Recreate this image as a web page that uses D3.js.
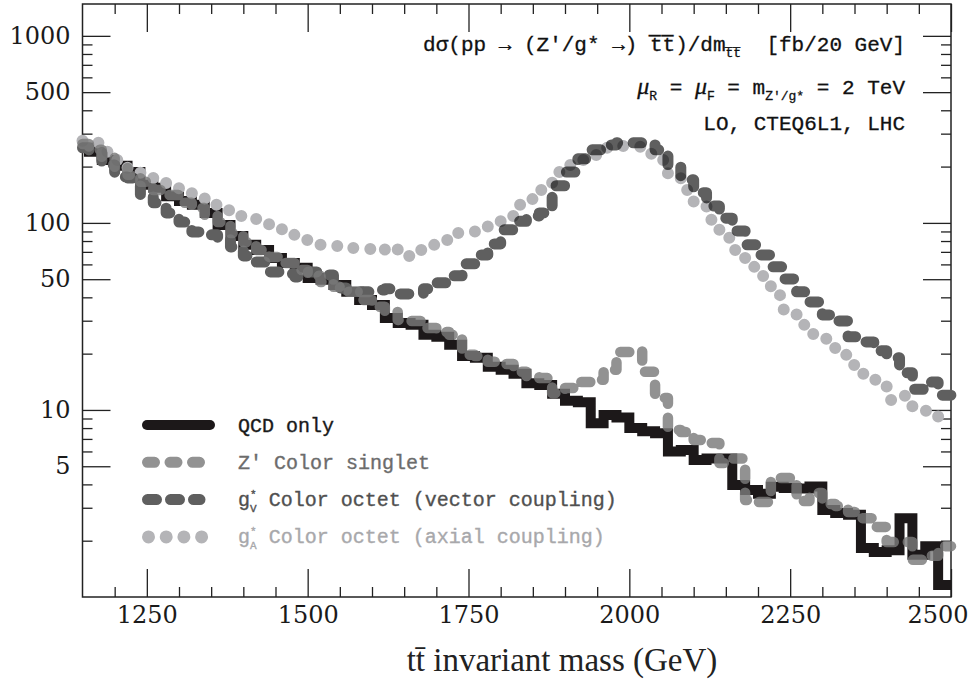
<!DOCTYPE html>
<html><head><meta charset="utf-8">
<script src="https://cdn.jsdelivr.net/npm/d3@7"></script>
<style>
body{margin:0;background:#fff;}
svg{display:block;}
.mono{font-family:'Liberation Mono','DejaVu Sans Mono',monospace;white-space:pre;}
.tick text{font-family:'DejaVu Serif',serif !important;font-size:24px !important;}
</style></head><body>
<svg id="chart" width="974" height="687"></svg>
<script>
// ---------- data ----------
// 20 GeV bins, lower edges 1140 ... 2480 (68 bins)
const binLow = d3.range(1140, 2500, 20);
const qcd = [252, 240, 217, 202, 187, 160, 154, 139, 131, 125,
  113, 97.5, 85.2, 76.3, 71.7, 65.0, 61.1, 57.5, 50.8, 49.6,
  46.6, 42.8, 38.7, 36.4, 31.0, 29.2, 28.5, 25.2, 24.6, 22.3,
  19.4, 19.0, 17.0, 16.4, 15.6, 13.9, 13.6, 12.2, 11.2, 11.0,
  8.5, 9.4, 9.1, 8.0, 7.7, 7.5, 6.0, 6.1, 5.4, 5.5,
  5.5, 3.97, 3.73, 3.56, 3.88, 3.83, 3.8, 3.9, 2.92, 2.81,
  2.75, 1.83, 1.74, 1.78, 2.64, 1.68, 1.87, 1.16];
const zprime = [264, 246, 223, 197, 181, 166, 150, 141, 128, 120,
  110, 101, 88.4, 79.1, 71.7, 65.8, 61.1, 56.0, 52.1, 48.3,
  45.5, 42.8, 38.7, 35.6, 33.4, 30.3, 29.9, 27.4, 26.1, 25.2,
  19.7, 19.4, 18.1, 17.6, 16.0, 15.2, 14.8, 12.3, 13.1, 14.1,
  14.5, 16.4, 20.4, 20.6, 16.0, 11.6, 7.82, 7.63, 6.91, 6.66,
  5.21, 5.5, 3.30, 3.22, 4.33, 4.33, 3.26, 3.60, 3.14, 3.07,
  2.85, 2.64, 2.37, 1.97, 1.97, 1.58, 1.66, 1.87];
const gVector = [252, 240, 204, 176, 174, 138, 128, 113, 101, 89.5,
  86.3, 82.1, 74.4, 66.6, 61.8, 54.7, 53.4, 51.4, 54.7, 52.7,
  44.9, 43.8, 42.8, 43.8, 44.4, 41.7, 41.7, 44.4, 47.8, 52.1,
  60.4, 67.4, 77.2, 91.8, 102, 109, 113, 158, 187, 220,
  246, 261, 268, 268, 261, 246, 204, 170, 145, 123,
  106, 90.6, 76.3, 67.4, 58.2, 50.2, 42.8, 37.8, 32.2, 29.9,
  24.6, 23.1, 20.7, 19.0, 15.8, 12.9, 14.1, 12.0];
const gAxial = [275, 268, 240, 217, 192, 178, 168, 156, 148, 138,
  125, 117, 109, 105, 100, 94.0, 86.3, 81.1, 77.2, 76.3,
  75.3, 73.5, 72.6, 70.8, 74.4, 66.6, 71.7, 76.3, 81.1, 88.4,
  89.5, 92.9, 98.8, 109, 125, 134, 150, 187, 204, 217,
  231, 252, 258, 255, 234, 217, 181, 150, 125, 104,
  83.2, 71.7, 58.2, 52.0, 41.1, 34.3, 28.5, 25.5, 24.0, 19.7,
  17.4, 15.6, 14.5, 11.3, 11.9, 10.4, 9.9, 9.1];
const xMajor = [1250, 1500, 1750, 2000, 2250, 2500];
const yMajor = [5, 10, 50, 100, 500, 1000];
const yMinor = [2, 3, 4, 6, 7, 8, 9, 20, 30, 40, 60, 70, 80, 90, 200, 300, 400, 600, 700, 800, 900];
const legendNames = ["QCD only", "Z\u2032 Color singlet", "Color octet (vector coupling)", "Color octet (axial coupling)"];

// ---------- setup ----------
const svg = d3.select("#chart");
const x = d3.scaleLinear().domain([1150, 2500]).range([82.5, 951]);
const y = d3.scaleLog().domain([1, 1480]).range([597, 4]);
const L = x.range()[0], R = x.range()[1], T = y.range()[1], B = y.range()[0];
const xMinor = d3.range(1200, 2500, 50).filter(v => !xMajor.includes(v));

const styles = {
  qcd:  {color: "#1c1819", width: 10, dash: null, cap: "butt"},
  zp:   {color: "#7a7a7a", width: 10.5, dash: "9 14", cap: "round", opacity: 0.82},
  gv:   {color: "#5f5f5f", width: 11, dash: "8.5 15.5", cap: "round"},
  ga:   {color: "#b4b4b7", width: 12, dash: "0 18", cap: "round"}
};

function styleAxis(g) {
  g.attr("font-family", "'DejaVu Serif', serif").attr("font-size", 24);
  g.select(".domain").remove();
  g.selectAll(".tick line").attr("stroke", "#222").attr("stroke-width", 1.3);
  g.selectAll(".tick text").attr("fill", "#1a1a1a");
}

// bottom axis
svg.append("g").attr("transform", `translate(0,${B})`)
  .call(d3.axisBottom(x).tickValues(xMajor).tickSize(-28).tickPadding(9).tickFormat(d3.format("d")))
  .call(styleAxis)
  .call(g => g.selectAll(".tick text").each(function(d) {
    const bb = this.getBBox();
    const right = x(d) + bb.x + bb.width;
    if (right > 968) d3.select(this).attr("x", 968 - right);
  }));
svg.append("g").attr("transform", `translate(0,${B})`)
  .call(d3.axisBottom(x).tickValues(xMinor).tickSize(-10).tickFormat("")).call(styleAxis);
// top axis
svg.append("g").attr("transform", `translate(0,${T})`)
  .call(d3.axisTop(x).tickValues(xMajor).tickSize(-28).tickFormat("")).call(styleAxis);
svg.append("g").attr("transform", `translate(0,${T})`)
  .call(d3.axisTop(x).tickValues(xMinor).tickSize(-10).tickFormat("")).call(styleAxis);
// left axis
svg.append("g").attr("transform", `translate(${L},0)`)
  .call(d3.axisLeft(y).tickValues(yMajor).tickSize(-28).tickPadding(12).tickFormat(d3.format("d")))
  .call(styleAxis);
svg.append("g").attr("transform", `translate(${L},0)`)
  .call(d3.axisLeft(y).tickValues(yMinor).tickSize(-10).tickFormat("")).call(styleAxis);
// right axis
svg.append("g").attr("transform", `translate(${R},0)`)
  .call(d3.axisRight(y).tickValues(yMajor).tickSize(-28).tickFormat("")).call(styleAxis);
svg.append("g").attr("transform", `translate(${R},0)`)
  .call(d3.axisRight(y).tickValues(yMinor).tickSize(-10).tickFormat("")).call(styleAxis);

// frame
svg.append("rect").attr("x", L).attr("y", T).attr("width", R - L).attr("height", B - T)
  .attr("fill", "none").attr("stroke", "#222").attr("stroke-width", 1.5);

// ---------- series ----------
const line = d3.line().x(d => x(d[0])).y(d => y(d[1])).curve(d3.curveStepAfter);
const x0 = x.domain()[0], x1 = x.domain()[1];
function pts(vals) {
  const p = binLow.map((b, i) => [Math.max(b, x0), vals[i]]);
  p.push([x1, vals[vals.length - 1]]);
  return p;
}
function drawSeries(g, vals, s) {
  const p = g.append("path").attr("d", line(pts(vals)))
    .attr("fill", "none").attr("stroke", s.color).attr("stroke-width", s.width)
    .attr("stroke-linecap", s.cap).attr("stroke-linejoin", s.cap === "round" ? "round" : "miter");
  if (s.dash) p.attr("stroke-dasharray", s.dash);
  if (s.opacity) p.attr("stroke-opacity", s.opacity);
  return p;
}
drawSeries(svg, qcd, styles.qcd);
const gGroup = svg.append("g").style("isolation", "isolate");
drawSeries(gGroup, gAxial, styles.ga);
drawSeries(gGroup, gVector, styles.gv).style("mix-blend-mode", "multiply");
drawSeries(svg, zprime, styles.zp);

// ---------- legend ----------
const legend = svg.append("g");
const legendStyles = [styles.qcd, styles.zp, styles.gv, styles.ga];
const legendText = ["#1a1a1a", "#6c6c6c", "#505050", "#a8a8ab"];
const legendDash = [null, "7 15.5", "9 14", "0 17.7"];
const legendWidth = [10, 11, 11, 13];
legendNames.forEach((name, i) => {
  const cy = 425 + i * 37.3;
  const s = legendStyles[i];
  const pl = legend.append("line").attr("y1", cy).attr("y2", cy)
    .attr("stroke", s.color).attr("stroke-width", legendWidth[i]).attr("stroke-linecap", "round");
  if (i === 0) pl.attr("x1", 147).attr("x2", 210);
  else if (i === 3) pl.attr("x1", 148.5).attr("x2", 202.5);
  else pl.attr("x1", 147.5).attr("x2", 200);
  if (legendDash[i]) pl.attr("stroke-dasharray", legendDash[i]);
  if (s.opacity) pl.attr("stroke-opacity", s.opacity);
  const t = legend.append("text").attr("class", "mono").attr("x", 238).attr("y", cy + 6.5)
    .attr("fill", legendText[i]).attr("stroke", legendText[i]).attr("stroke-width", 0.35)
    .style("font-size", "20px");
  if (i < 2) t.text(name);
  else {
    t.append("tspan").text("g");
    t.append("tspan").text("*").style("font-size", "11px").attr("dy", -8);
    t.append("tspan").text(i === 2 ? "V" : "A").style("font-size", "11px").attr("dx", -6.6).attr("dy", 14);
    t.append("tspan").text(" " + name).style("font-size", "20px").attr("dy", -6);
  }
});

// ---------- annotation ----------
const ann = svg.append("g").attr("fill", "#111");
const annX = 905;
const l1 = ann.append("text").attr("class", "mono").attr("x", annX).attr("y", 51)
  .attr("text-anchor", "end").style("font-size", "21px").attr("stroke", "#111").attr("stroke-width", 0.3);
l1.append("tspan").text("d\u03c3(pp \u2192 (Z\u2032/g* \u2192) t\u0305t\u0305)/dm");
l1.append("tspan").text("t\u0305t\u0305").style("font-size", "13px").attr("dy", 6);
l1.append("tspan").text("  [fb/20 GeV]").attr("dy", -6);
const l2 = ann.append("text").attr("class", "mono").attr("x", annX).attr("y", 94)
  .attr("text-anchor", "end").style("font-size", "21px").attr("stroke", "#111").attr("stroke-width", 0.3);
l2.append("tspan").text("\u03bc").style("font-family", "'Liberation Serif', serif").style("font-style", "italic").style("font-size", "24px");
l2.append("tspan").text("R").style("font-size", "13px").attr("dy", 6);
l2.append("tspan").text(" = ").attr("dy", -6);
l2.append("tspan").text("\u03bc").style("font-family", "'Liberation Serif', serif").style("font-style", "italic").style("font-size", "24px");
l2.append("tspan").text("F").style("font-size", "13px").attr("dy", 6);
l2.append("tspan").text(" = m").attr("dy", -6);
l2.append("tspan").text("Z\u2032/g*").style("font-size", "13px").attr("dy", 6);
l2.append("tspan").text(" = 2 TeV").attr("dy", -6);
ann.append("text").attr("class", "mono").attr("x", annX).attr("y", 130)
  .attr("text-anchor", "end").style("font-size", "21px").attr("stroke", "#111").attr("stroke-width", 0.3)
  .text("LO, CTEQ6L1, LHC");

// ---------- axis title ----------
svg.append("text").attr("x", 562).attr("y", 671).attr("text-anchor", "middle")
  .attr("fill", "#222").style("font-family", "'Liberation Serif', serif").style("font-size", "33px")
  .text("tt\u0304 invariant mass (GeV)");
</script>
</body></html>
